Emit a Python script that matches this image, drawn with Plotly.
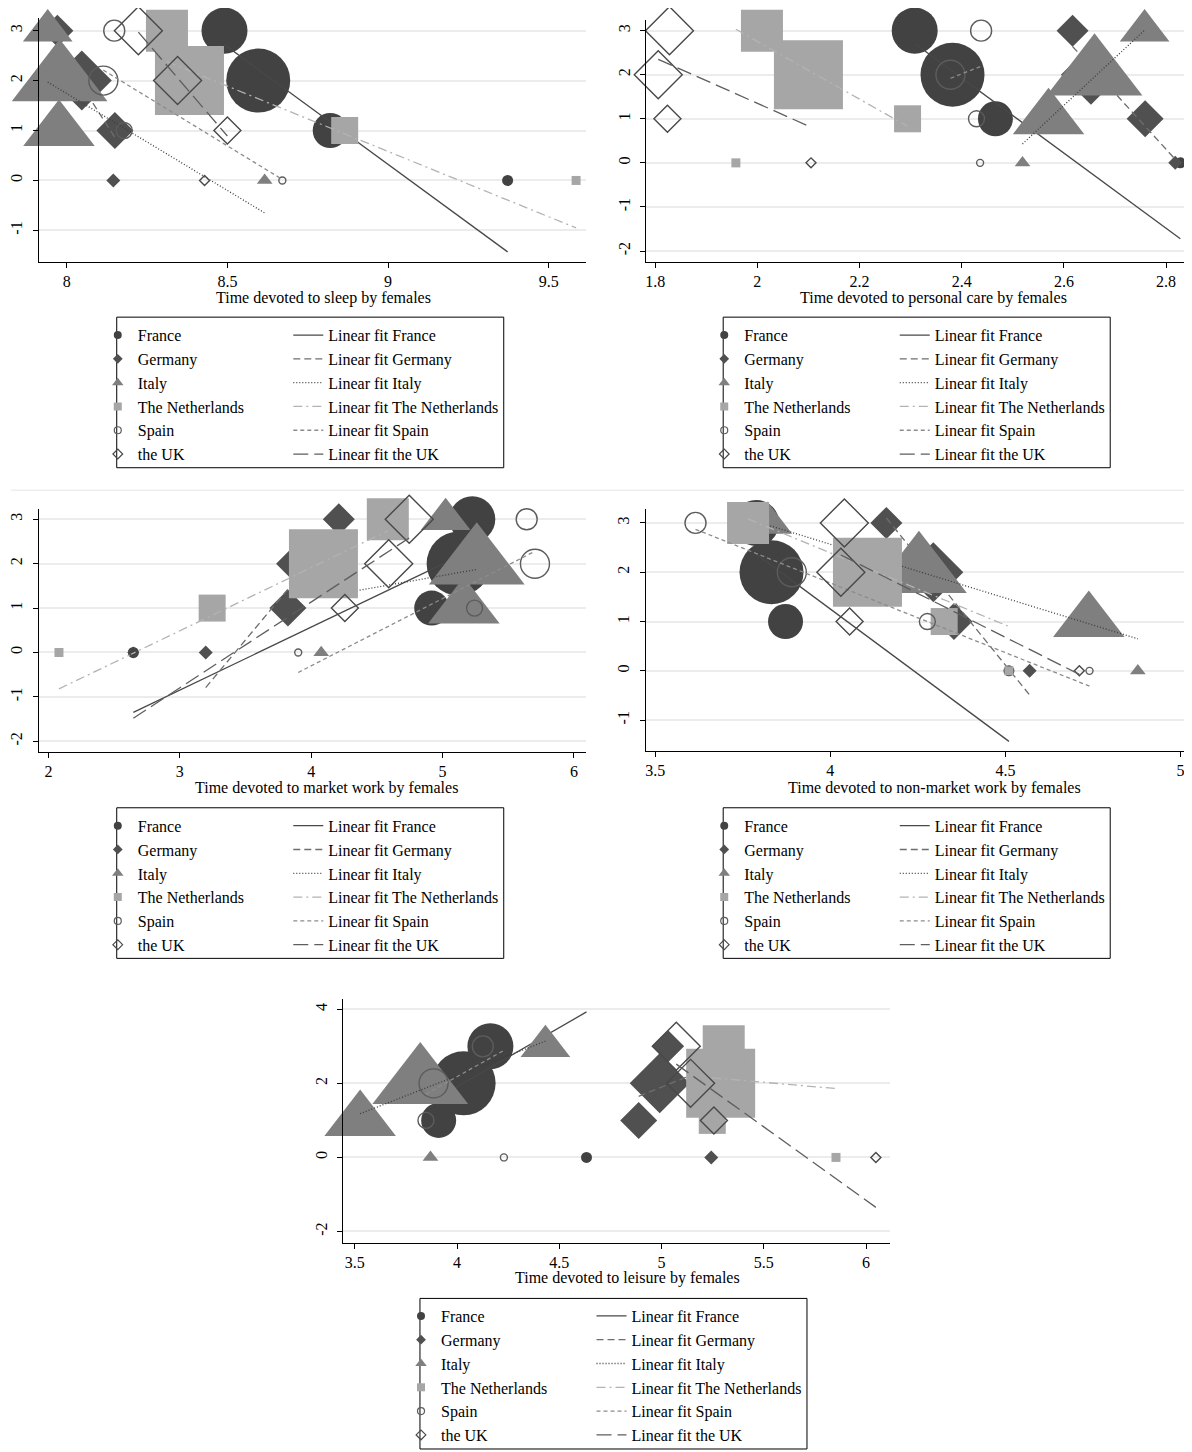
import plotly.graph_objects as go

OFF = 8  # the page body adds an 8px margin around the figure
W, H = 1192 - OFF, 1452 - OFF

# ---------------- data ----------------
countries = ["France", "Germany", "Italy", "The Netherlands", "Spain", "the UK"]
y_levels = [0, 1, 2, 3]

# marker weights (same for every panel), per country, for y = 0, 1, 2, 3
weight_france = [11, 35, 64, 46]
weight_germany = [14, 37, 60, 32]
weight_italy = [13, 59, 79, 41]
weight_netherlands = [9, 27, 69, 42]
weight_spain = [7, 16, 29, 21]
weight_uk = [10, 27, 48, 48]
weights = [weight_france, weight_germany, weight_italy,
           weight_netherlands, weight_spain, weight_uk]

# x values per country (rows: France, Germany, Italy, NL, Spain, UK; cols: y = 0..3)
sleep_x = [
    [9.372, 8.820, 8.596, 8.491],
    [8.145, 8.150, 8.047, 7.971],
    [8.616, 7.976, 7.978, 7.941],
    [9.585, 8.865, 8.382, 8.312],
    [8.671, 8.179, 8.114, 8.148],
    [8.429, 8.500, 8.345, 8.223],
]
# fitted values at the country's lowest and highest x
sleep_fit = [[2.72, -1.43], [2.66, 0.86], [1.97, -0.65],
             [2.38, -0.95], [2.21, 0.02], [2.97, 0.89]]

care_x = [
    [2.828, 2.466, 2.382, 2.308],
    [2.818, 2.759, 2.653, 2.617],
    [2.519, 2.570, 2.660, 2.758],
    [1.958, 2.294, 2.100, 2.009],
    [2.436, 2.429, 2.378, 2.438],
    [2.105, 1.824, 1.806, 1.828],
]
care_fit = [[2.71, -1.72], [2.64, 0.08], [0.43, 3.01],
            [3.03, 0.83], [1.92, 2.19], [2.35, 0.81]]

market_x = [
    [2.646, 4.917, 5.122, 5.226],
    [3.197, 3.823, 3.961, 4.210],
    [4.076, 5.162, 5.260, 5.023],
    [2.080, 3.246, 4.093, 4.583],
    [3.901, 5.243, 5.703, 5.640],
    [2.646, 4.256, 4.590, 4.746],
]
market_fit = [[-1.35, 2.31], [-0.79, 2.80], [1.25, 1.87],
              [-0.82, 2.74], [-0.45, 2.28], [-1.48, 2.58]]

nonmarket_x = [
    [4.510, 3.872, 3.832, 3.788],
    [4.569, 4.353, 4.294, 4.160],
    [4.878, 4.738, 4.253, 3.820],
    [4.510, 4.325, 4.106, 3.765],
    [4.740, 4.277, 3.890, 3.615],
    [4.711, 4.055, 4.030, 4.040],
]
nonmarket_fit = [[2.37, -1.43], [3.10, -0.49], [2.96, 0.65],
                 [3.08, 0.90], [2.87, -0.31], [2.35, -0.07]]

leisure_x = [
    [4.633, 3.910, 4.032, 4.163],
    [5.243, 4.888, 4.991, 5.032],
    [3.870, 3.526, 3.820, 4.432],
    [5.853, 5.248, 5.289, 5.304],
    [4.229, 3.848, 3.885, 4.126],
    [6.048, 5.256, 5.142, 5.072],
]
leisure_fit = [[1.62, 3.93], [1.65, 2.44], [1.18, 3.14],
               [2.15, 1.86], [1.71, 2.89], [2.52, -1.35]]

titles = ["Time devoted to sleep by females",
          "Time devoted to personal care by females",
          "Time devoted to market work by females",
          "Time devoted to non-market work by females",
          "Time devoted to leisure by females"]

sleep_xticks = [8, 8.5, 9, 9.5]
care_xticks = [1.8, 2, 2.2, 2.4, 2.6, 2.8]
market_xticks = [2, 3, 4, 5, 6]
nonmarket_xticks = [3.5, 4, 4.5, 5]
leisure_xticks = [3.5, 4, 4.5, 5, 5.5, 6]
sleep_yticks = [-1, 0, 1, 2, 3]
care_yticks = [-2, -1, 0, 1, 2, 3]
market_yticks = [-2, -1, 0, 1, 2, 3]
nonmarket_yticks = [-1, 0, 1, 2, 3]
leisure_yticks = [-2, 0, 2, 4]

# ---------------- styles / layout ----------------
FONT = "Liberation Serif, Times New Roman, serif"
symbols = ["circle", "diamond", "triangle-up", "square", "circle-open", "diamond-open"]
size_factor = {"circle": 1.0, "diamond": 1 / 1.3, "triangle-up": 1.05, "square": 1.0,
               "circle-open": 1.0, "diamond-open": 1 / 1.3}
marker_colors = ["#424242", "#505050", "#7f7f7f", "#a6a6a6", "#5c5c5c", "#484848"]
line_colors = ["#484848", "#6e6e6e", "#3c3c3c", "#b3b3b3", "#8c8c8c", "#5e5e5e"]
line_dashes = ["solid", "7px,4px", "1px,2px", "9px,4px,2px,4px", "4px,3px", "15px,6px"]
legend_msize = [8, 7.5, 10, 8, 7, 7.5]

panel_x = [sleep_x, care_x, market_x, nonmarket_x, leisure_x]
panel_fit = [sleep_fit, care_fit, market_fit, nonmarket_fit, leisure_fit]
panel_xticks = [sleep_xticks, care_xticks, market_xticks, nonmarket_xticks, leisure_xticks]
panel_yticks = [sleep_yticks, care_yticks, market_yticks, nonmarket_yticks, leisure_yticks]

# plot-area geometry in page pixels: left, right, top, bottom; and axis ranges
geom = [
    dict(px=(35.8, 584.5, 18, 262.3), xr=(7.913, 9.616), yr=(-1.625, 3.254)),
    dict(px=(644.7, 1190, 20, 262.3), xr=(1.7822, 2.8469), yr=(-2.24, 3.242)),
    dict(px=(35.8, 584.4, 510, 754.3), xr=(1.926, 6.091), yr=(-2.246, 3.24)),
    dict(px=(644.3, 1190, 510, 753.3), xr=(3.4727, 5.027), yr=(-1.63, 3.29)),
    dict(px=(340.8, 889, 1001.7, 1246), xr=(3.442, 6.116), yr=(-2.30, 4.28)),
]
legend_box = [(114, 318), (722, 318), (114, 810), (722, 810), (418, 1302)]
title_pos = [(321, 299), (933, 299), (324, 790), (934, 790), (626, 1282)]


def px_x(v):
    return (v - OFF) / W


def px_y(v):
    return 1 - (v - OFF) / H


def fmt(v):
    return ("%g" % v)


fig = go.Figure()
layout = dict(width=W, height=H, margin=dict(l=0, r=0, t=0, b=0, pad=0),
              plot_bgcolor="white", paper_bgcolor="white",
              font=dict(family=FONT, size=16, color="black"),
              showlegend=True, shapes=[], annotations=[])

for p in range(5):
    ax = "" if p == 0 else str(p + 1)
    xa, ya = "x" + ax, "y" + ax
    leg_m = "legend" if p == 0 else "legend%d" % (2 * p + 1)
    leg_l = "legend%d" % (2 * p + 2)
    for c, name in enumerate(countries):
        xs = panel_x[p][c]
        sym = symbols[c]
        is_open = sym.endswith("open")
        fig.add_trace(go.Scatter(
            x=xs, y=y_levels, mode="markers", xaxis=xa, yaxis=ya,
            showlegend=False, cliponaxis=False, hoverinfo="skip",
            marker=dict(symbol=sym, color=marker_colors[c], opacity=1,
                        size=[w * size_factor[sym] for w in weights[c]],
                        line=dict(width=1.4 if is_open else 0, color=marker_colors[c]))))
        # legend key for the scatter
        fig.add_trace(go.Scatter(
            x=[None], y=[None], mode="markers", xaxis=xa, yaxis=ya, name=name,
            legend=leg_m, showlegend=True,
            marker=dict(symbol=sym, color=marker_colors[c], size=legend_msize[c], opacity=1,
                        line=dict(width=1.2 if is_open else 0, color=marker_colors[c]))))
        # linear fit over the country's x range
        fig.add_trace(go.Scatter(
            x=[min(xs), max(xs)], y=panel_fit[p][c], mode="lines", xaxis=xa, yaxis=ya,
            name="Linear fit " + name, legend=leg_l, showlegend=True, hoverinfo="skip",
            line=dict(color=line_colors[c], width=1.3, dash=line_dashes[c])))

    g = geom[p]
    l, r, t, b = g["px"]
    layout["xaxis" + ax] = dict(
        domain=[px_x(l), px_x(r)], range=list(g["xr"]), anchor=ya,
        showline=True, linecolor="black", linewidth=1, mirror=False,
        ticks="outside", ticklen=5, tickcolor="black", tickwidth=1,
        tickvals=panel_xticks[p], ticktext=[fmt(v) for v in panel_xticks[p]],
        ticklabeloverflow="allow",
        showgrid=False, zeroline=False,
        tickfont=dict(family=FONT, size=16, color="black"))
    layout["yaxis" + ax] = dict(
        domain=[px_y(b), px_y(t)], range=list(g["yr"]), anchor=xa,
        showline=True, linecolor="black", linewidth=1,
        ticks="outside", ticklen=5, tickcolor="black", tickwidth=1,
        tickvals=panel_yticks[p], ticktext=[fmt(v) for v in panel_yticks[p]],
        tickangle=-90, ticklabelstandoff=4,
        showgrid=True, gridcolor="#ececec", gridwidth=2, zeroline=False,
        tickfont=dict(family=FONT, size=16, color="black"))

    bx, by = legend_box[p]
    layout["shapes"].append(dict(type="rect", xref="paper", yref="paper",
                                 x0=px_x(bx), x1=px_x(bx + 388),
                                 y0=px_y(by + 151), y1=px_y(by),
                                 line=dict(color="black", width=1), fillcolor="rgba(0,0,0,0)"))
    common = dict(xanchor="left", yanchor="top", bgcolor="rgba(0,0,0,0)", borderwidth=0,
                  font=dict(family=FONT, size=16, color="black"), tracegroupgap=0,
                  traceorder="normal", itemclick=False, itemdoubleclick=False)
    layout[leg_m] = dict(x=px_x(bx - 19), y=px_y(by + 1), itemwidth=30, **common)
    layout[leg_l] = dict(x=px_x(bx + 172), y=px_y(by + 1), itemwidth=30, **common)

    tx, ty = title_pos[p]
    layout["annotations"].append(dict(text=titles[p], x=px_x(tx), y=px_y(ty),
                                      xref="paper", yref="paper", showarrow=False,
                                      xanchor="center", yanchor="middle",
                                      font=dict(family=FONT, size=16, color="black")))

# faint outer border between the upper and middle graph regions
layout["shapes"].append(dict(type="line", xref="paper", yref="paper",
                             x0=0, x1=1, y0=px_y(491.5), y1=px_y(491.5),
                             line=dict(color="#eeeeee", width=1.5)))

fig.update_layout(**layout)
fig.write_html("out.html")
